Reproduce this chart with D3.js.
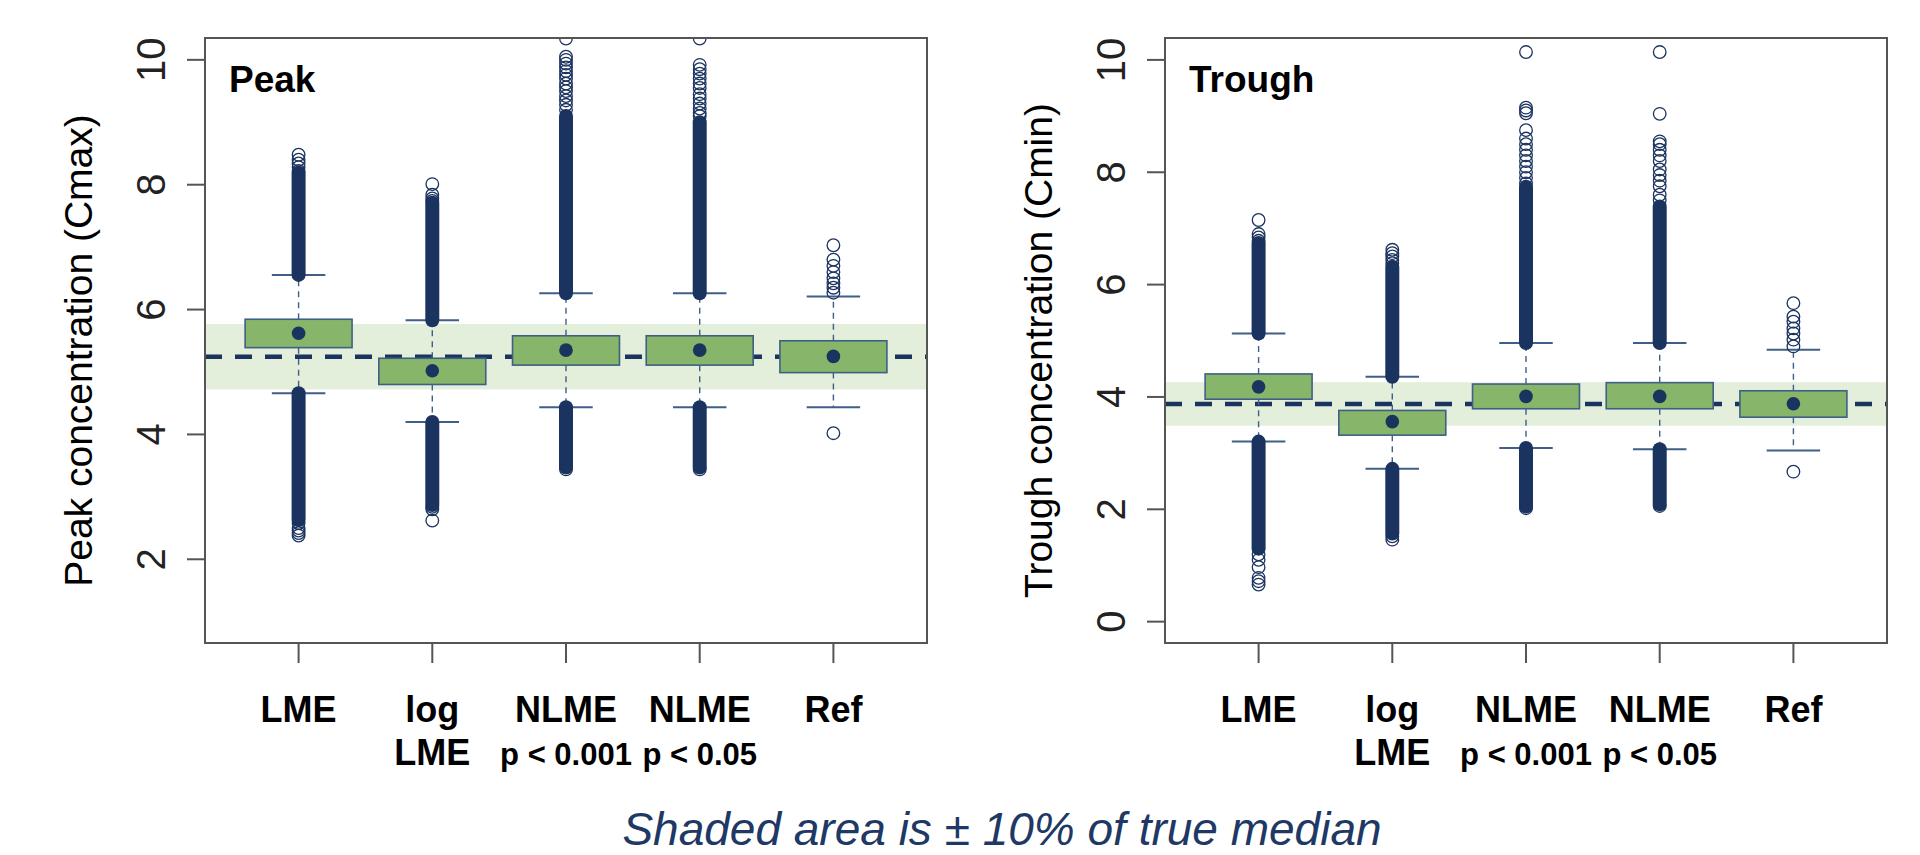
<!DOCTYPE html>
<html lang="en">
<head>
<meta charset="UTF-8">
<title>Peak / Trough boxplots</title>
<script src="https://cdn.jsdelivr.net/npm/d3@7/dist/d3.min.js"></script>
<style>
  body { margin: 0; background: #fff; }
  svg { display: block; font-family: "Liberation Sans", Arial, sans-serif; }
</style>
</head>
<body>
<script>
const width = 1920;
const height = 855;

// group labels (two lines)
const groups = ['LME', 'log', 'NLME', 'NLME', 'Ref'];
const groups2 = ['', 'LME', 'p < 0.001', 'p < 0.05', ''];

// Peak (Cmax)
const peakQ1 = [5.39, 4.80, 5.11, 5.11, 4.99];
const peakMed = [5.62, 5.02, 5.35, 5.35, 5.25];
const peakQ3 = [5.845, 5.22, 5.58, 5.58, 5.50];
const peakWhiskLo = [4.66, 4.20, 4.435, 4.435, 4.435];
const peakWhiskHi = [6.555, 5.83, 6.26, 6.26, 6.21];
const peakDenseHi = [8.19, 7.71, 9.1, 9.0, null];
const peakDenseLo = [2.63, 2.87, 3.47, 3.47, null];
const peakOutHi = [
  [8.22, 8.28, 8.34, 8.40, 8.48],
  [7.74, 7.78, 7.84, 8.01],
  [9.2, 9.28, 9.35, 9.42, 9.5, 9.56, 9.62, 9.7, 9.76, 9.82, 9.88, 9.94, 10.0, 10.05, 10.34],
  [9.1, 9.15, 9.22, 9.3, 9.38, 9.45, 9.55, 9.62, 9.7, 9.78, 9.85, 9.92, 10.34],
  [6.27, 6.35, 6.42, 6.5, 6.6, 6.7, 6.8, 7.03]
];
const peakOutLo = [
  [2.58, 2.50, 2.46, 2.42, 2.38],
  [2.84, 2.80, 2.62],
  [3.44],
  [3.44],
  [4.02]
];
const peakTrue = 5.245;

// Trough (Cmin)
const troughQ1 = [3.96, 3.32, 3.79, 3.79, 3.64];
const troughMed = [4.18, 3.56, 4.01, 4.01, 3.88];
const troughQ3 = [4.41, 3.76, 4.23, 4.255, 4.11];
const troughWhiskLo = [3.205, 2.72, 3.09, 3.07, 3.045];
const troughWhiskHi = [5.13, 4.36, 4.96, 4.96, 4.84];
const troughDenseHi = [6.74, 6.32, 7.74, 7.39, null];
const troughDenseLo = [1.3, 1.57, 2.05, 2.09, null];
const troughOutHi = [
  [6.78, 6.84, 6.9, 7.15],
  [6.38, 6.44, 6.5, 6.56, 6.62],
  [7.8, 7.9, 8.0, 8.1, 8.2, 8.3, 8.4, 8.5, 8.6, 8.75, 9.05, 9.1, 9.15, 10.14],
  [7.5, 7.6, 7.75, 7.85, 7.95, 8.05, 8.2, 8.3, 8.4, 8.5, 8.55, 9.04, 10.14],
  [4.9, 5.02, 5.13, 5.22, 5.34, 5.43, 5.67]
];
const troughOutLo = [
  [1.2, 1.1, 0.97, 0.78, 0.72, 0.66],
  [1.52, 1.46],
  [2.02],
  [2.06],
  [2.67]
];
const troughTrue = 3.875;

const navy = '#1b335f';
const boxFill = '#87b56a';
const boxStroke = '#3f5f87';
const bandFill = '#e3eedb';
const frame = '#555';

let svg = d3.select('body')
  .append('svg')
  .attr('width', width)
  .attr('height', height);

svg.append('rect').attr('width', width).attr('height', height).attr('fill', '#fff');

function drawPanel (p) {
  const x0 = p.left, x1 = p.left + 722;
  const top = 38, bottom = 643;
  const x = d3.scaleLinear().domain([0.3, 5.7]).range([x0, x1]);
  const y = d3.scaleLinear().domain(p.yDomain).range([bottom, top]);
  const bw = x(1.8) - x(1);   // boxwex 0.8
  const sw = bw / 2;          // staple width
  const g = svg.append('g');

  const clipId = 'clip-' + p.id;
  svg.append('clipPath').attr('id', clipId)
    .append('rect').attr('x', x0).attr('y', top).attr('width', x1 - x0).attr('height', bottom - top);

  const plot = g.append('g').attr('clip-path', `url(#${clipId})`);

  // shaded +/- 10% band
  plot.append('rect')
    .attr('x', x0).attr('width', x1 - x0)
    .attr('y', y(p.trueMed * 1.1))
    .attr('height', y(p.trueMed * 0.9) - y(p.trueMed * 1.1))
    .attr('fill', bandFill);

  // true median
  plot.append('line')
    .attr('x1', x0).attr('x2', x1)
    .attr('y1', y(p.trueMed)).attr('y2', y(p.trueMed))
    .attr('stroke', navy).attr('stroke-width', 4.5)
    .attr('stroke-dasharray', '17,13');

  const idx = d3.range(groups.length);

  // whiskers
  plot.selectAll('.wh').data(idx).enter().append('line')
    .attr('x1', i => x(i + 1)).attr('x2', i => x(i + 1))
    .attr('y1', i => y(p.q3[i])).attr('y2', i => y(p.whiskHi[i]))
    .attr('stroke', boxStroke).attr('stroke-width', 1.4).attr('stroke-dasharray', '6,5');
  plot.selectAll('.wl').data(idx).enter().append('line')
    .attr('x1', i => x(i + 1)).attr('x2', i => x(i + 1))
    .attr('y1', i => y(p.q1[i])).attr('y2', i => y(p.whiskLo[i]))
    .attr('stroke', boxStroke).attr('stroke-width', 1.4).attr('stroke-dasharray', '6,5');

  // staples
  [p.whiskHi, p.whiskLo].forEach(arr => {
    plot.selectAll(null).data(idx).enter().append('line')
      .attr('x1', i => x(i + 1) - sw / 2).attr('x2', i => x(i + 1) + sw / 2)
      .attr('y1', i => y(arr[i])).attr('y2', i => y(arr[i]))
      .attr('stroke', boxStroke).attr('stroke-width', 2);
  });

  // dense outlier runs
  [[p.whiskHi, p.denseHi], [p.whiskLo, p.denseLo]].forEach(([from, to]) => {
    plot.selectAll(null).data(idx.filter(i => to[i] != null)).enter().append('line')
      .attr('x1', i => x(i + 1)).attr('x2', i => x(i + 1))
      .attr('y1', i => y(from[i])).attr('y2', i => y(to[i]))
      .attr('stroke', navy).attr('stroke-width', 14).attr('stroke-linecap', 'round');
  });

  // boxes
  plot.selectAll('.box').data(idx).enter().append('rect')
    .attr('x', i => x(i + 1) - bw / 2).attr('width', bw)
    .attr('y', i => y(p.q3[i])).attr('height', i => y(p.q1[i]) - y(p.q3[i]))
    .attr('fill', boxFill).attr('stroke', boxStroke).attr('stroke-width', 1.6);

  // medians
  plot.selectAll('.med').data(idx).enter().append('circle')
    .attr('cx', i => x(i + 1)).attr('cy', i => y(p.med[i])).attr('r', 6.8)
    .attr('fill', navy);

  // sparse outliers
  const pts = [];
  idx.forEach(i => {
    p.outHi[i].forEach(v => pts.push([i, v]));
    p.outLo[i].forEach(v => pts.push([i, v]));
  });
  plot.selectAll('.out').data(pts).enter().append('circle')
    .attr('cx', d => x(d[0] + 1)).attr('cy', d => y(d[1])).attr('r', 6.3)
    .attr('fill', 'none').attr('stroke', navy).attr('stroke-width', 1.3);

  // frame
  g.append('rect')
    .attr('x', x0).attr('y', top).attr('width', x1 - x0).attr('height', bottom - top)
    .attr('fill', 'none').attr('stroke', frame).attr('stroke-width', 2);

  // y axis ticks and labels
  g.selectAll('.yt').data(p.yTicks).enter().append('line')
    .attr('x1', x0 - 18).attr('x2', x0)
    .attr('y1', d => y(d)).attr('y2', d => y(d))
    .attr('stroke', frame).attr('stroke-width', 2);
  g.selectAll('.yl').data(p.yTicks).enter().append('text')
    .attr('transform', d => `translate(${x0 - 40},${y(d)}) rotate(-90)`)
    .attr('text-anchor', 'middle')
    .attr('font-size', 40)
    .attr('fill', '#222')
    .text(d => d);

  // x axis ticks and labels
  g.selectAll('.xt').data(idx).enter().append('line')
    .attr('x1', i => x(i + 1)).attr('x2', i => x(i + 1))
    .attr('y1', bottom).attr('y2', bottom + 20)
    .attr('stroke', frame).attr('stroke-width', 2);
  g.selectAll('.xl').data(idx).enter().append('text')
    .attr('x', i => x(i + 1)).attr('y', 722)
    .attr('text-anchor', 'middle')
    .attr('font-size', 36).attr('font-weight', 'bold')
    .text(i => groups[i]);
  g.selectAll('.xl2').data(idx).enter().append('text')
    .attr('x', i => x(i + 1)).attr('y', 765)
    .attr('text-anchor', 'middle')
    .attr('font-size', i => groups2[i] === 'LME' ? 36 : 31).attr('font-weight', 'bold')
    .text(i => groups2[i]);

  // axis title
  g.append('text')
    .attr('transform', `translate(${x0 - 113},${(top + bottom) / 2 + 10}) rotate(-90)`)
    .attr('text-anchor', 'middle')
    .attr('font-size', 39)
    .text(p.yTitle);

  // panel title
  g.append('text')
    .attr('x', x0 + 24).attr('y', 92)
    .attr('font-size', 37).attr('font-weight', 'bold')
    .text(p.title);
}

drawPanel({
  id: 'peak', left: 205, title: 'Peak', yTitle: 'Peak concentration (Cmax)',
  yDomain: [0.659, 10.35], yTicks: [2, 4, 6, 8, 10],
  q1: peakQ1, med: peakMed, q3: peakQ3, whiskLo: peakWhiskLo, whiskHi: peakWhiskHi,
  denseHi: peakDenseHi, denseLo: peakDenseLo, outHi: peakOutHi, outLo: peakOutLo,
  trueMed: peakTrue
});

drawPanel({
  id: 'trough', left: 1165, title: 'Trough', yTitle: 'Trough concentration (Cmin)',
  yDomain: [-0.38, 10.39], yTicks: [0, 2, 4, 6, 8, 10],
  q1: troughQ1, med: troughMed, q3: troughQ3, whiskLo: troughWhiskLo, whiskHi: troughWhiskHi,
  denseHi: troughDenseHi, denseLo: troughDenseLo, outHi: troughOutHi, outLo: troughOutLo,
  trueMed: troughTrue
});

// caption
svg.append('text')
  .attr('x', 1002).attr('y', 845)
  .attr('text-anchor', 'middle')
  .attr('font-size', 46).attr('font-style', 'italic')
  .attr('fill', '#203864')
  .text('Shaded area is \u00b1 10% of true median');
</script>
</body>
</html>
